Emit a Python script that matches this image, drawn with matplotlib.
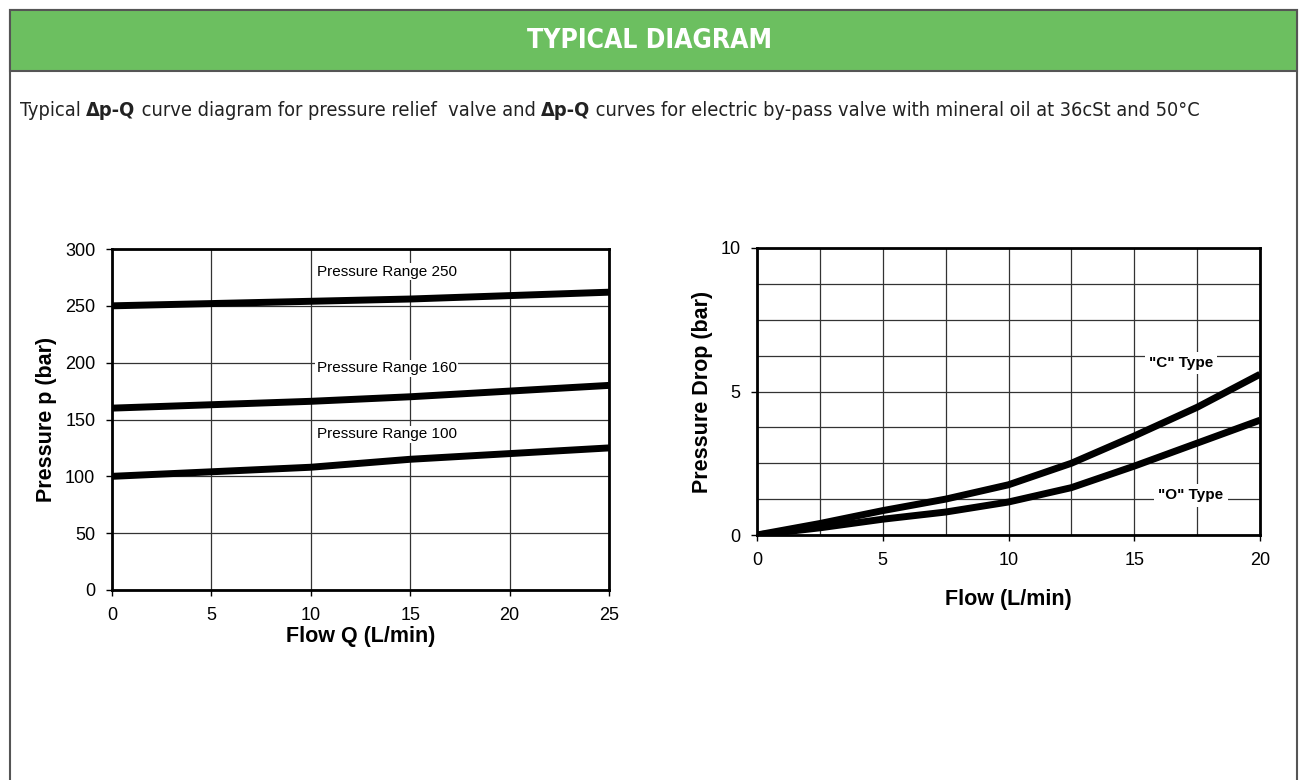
import numpy as np
import matplotlib.pyplot as plt
from matplotlib.patches import Rectangle

# Relief valve curves (left chart)
flujo_q = [0, 5, 10, 15, 20, 25]
rango_250 = [250, 252, 254, 256, 259, 262]
rango_160 = [160, 163, 166, 170, 175, 180]
rango_100 = [100, 104, 108, 115, 120, 125]
etiquetas_rango = ["Pressure Range 250", "Pressure Range 160", "Pressure Range 100"]

# By-pass valve curves (right chart)
flujo = [0, 2.5, 5, 7.5, 10, 12.5, 15, 17.5, 20]
tipo_c = [0, 0.4, 0.85, 1.25, 1.75, 2.5, 3.45, 4.45, 5.6]
tipo_o = [0, 0.25, 0.55, 0.8, 1.15, 1.65, 2.4, 3.2, 4.0]

plt.rcParams['font.family'] = ['Liberation Sans', 'DejaVu Sans']

fig = plt.figure(figsize=(13, 7.8), dpi=100)
fig.patch.set_facecolor('white')

# Marco exterior y cabecera verde
fig.patches.append(Rectangle((10 / 1300, -0.1), 1287 / 1300, 1.1 - 10 / 780,
                             transform=fig.transFigure, fill=False,
                             edgecolor='#555555', lw=1.5))
fig.patches.append(Rectangle((10 / 1300, 1 - 71 / 780), 1287 / 1300, 61 / 780,
                             transform=fig.transFigure, facecolor='#6cbf60',
                             edgecolor='#555555', lw=1.5))
fig.text(0.5, 1 - 41 / 780, "TYPICAL DIAGRAM", ha='center', va='center',
         color='white', fontsize=19, fontweight='bold',
         family=['DejaVu Sans'], fontstretch='condensed')

# Subtitulo con partes en negrita
partes = [("Typical ", 'normal'), ("\u0394p-Q", 'bold'),
          (" curve diagram for pressure relief  valve and ", 'normal'),
          ("\u0394p-Q", 'bold'),
          (" curves for electric by-pass valve with mineral oil at 36cSt and 50\u00b0C", 'normal')]
renderer = fig.canvas.get_renderer()
x_pos = 20
for texto, peso in partes:
    t = fig.text(x_pos / 1300, 1 - 110 / 780, texto, ha='left', va='center',
                 fontsize=14.3, fontweight=peso,
                 family=['DejaVu Sans'], fontstretch='condensed', color='#222222')
    x_pos += t.get_window_extent(renderer).width


def estilo(ax):
    for s in ax.spines.values():
        s.set_linewidth(2)
        s.set_color('black')
    ax.grid(True, color='0.2', lw=0.9)
    ax.set_axisbelow(True)
    ax.tick_params(direction='out', length=4, width=1, labelsize=13, pad=8)


# Grafica 1
ax1 = fig.add_axes([112 / 1300, 1 - 590 / 780, 497 / 1300, 341 / 780])
for serie in (rango_250, rango_160, rango_100):
    ax1.plot(flujo_q, serie, c='black', lw=5, solid_capstyle='butt')
ax1.set_xlim(0, 25)
ax1.set_ylim(0, 300)
ax1.set_xticks(np.arange(0, 26, 5))
ax1.set_yticks(np.arange(0, 301, 50))
estilo(ax1)
for etiqueta, y in zip(etiquetas_rango, [280, 195, 137]):
    ax1.text(10.3, y, etiqueta, fontsize=11, ha='left', va='center',
             bbox=dict(facecolor='white', edgecolor='none', pad=1))
ax1.set_xlabel('Flow Q (L/min)', fontsize=15.5, fontweight='bold', labelpad=2)
ax1.set_ylabel('Pressure p (bar)', fontsize=15.5, fontweight='bold', labelpad=6)

# Grafica 2
ax2 = fig.add_axes([757 / 1300, 1 - 535 / 780, 503 / 1300, 287 / 780])
ax2.plot(flujo, tipo_c, c='black', lw=5, solid_capstyle='butt')
ax2.plot(flujo, tipo_o, c='black', lw=5, solid_capstyle='butt')
ax2.set_xlim(0, 20)
ax2.set_ylim(0, 10)
ax2.set_xticks([0, 5, 10, 15, 20])
ax2.set_yticks([0, 5, 10])
ax2.set_xticks(np.arange(0, 20.1, 2.5), minor=True)
ax2.set_yticks(np.arange(0, 10.1, 1.25), minor=True)
estilo(ax2)
ax2.grid(True, which='minor', color='0.2', lw=0.9)
ax2.tick_params(which='minor', length=0)
ax2.text(16.85, 6.0, '"C" Type', fontsize=11, fontweight='bold', ha='center', va='center',
         bbox=dict(facecolor='white', edgecolor='none', pad=3))
ax2.text(17.25, 1.38, '"O" Type', fontsize=11, fontweight='bold', ha='center', va='center',
         bbox=dict(facecolor='white', edgecolor='none', pad=3))
ax2.set_xlabel('Flow (L/min)', fontsize=15.5, fontweight='bold', labelpad=15)
ax2.set_ylabel('Pressure Drop (bar)', fontsize=15.5, fontweight='bold', labelpad=5)

fig.savefig('out.png', dpi=100)
